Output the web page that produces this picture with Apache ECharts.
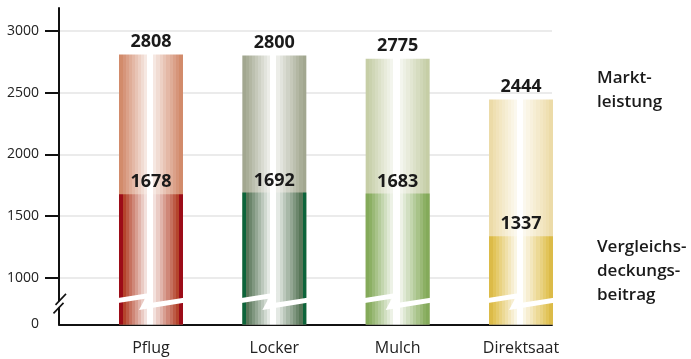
<!DOCTYPE html>
<html>
<head>
<meta charset="utf-8">
<script src="https://cdn.jsdelivr.net/npm/echarts@6/dist/echarts.min.js"></script>
<style>
  html, body { margin: 0; padding: 0; background: #ffffff; }
  #chart { width: 691px; height: 359px; }
</style>
</head>
<body>
<div id="chart"></div>
<script>
// Ertragsvergleich der Bodenbearbeitungssysteme (Werte je ha)
const categories = ['Pflug', 'Locker', 'Mulch', 'Direktsaat'];
const marktleistung = [2808, 2800, 2775, 2444];
const vergleichsDB = [1678, 1692, 1683, 1337];
const yTicks = [1000, 1500, 2000, 2500, 3000];

// The value axis is broken: its lower edge stands for 0.
const axisFloor = 623;
const axisTop = 3185;
const floorLabel = '0';
// where the break symbols sit on the (compressed) lower part of the axis
const barBreakAt = 822;
const axisBreakAt = 790;

// bar colours per system: [outer edge, first inner band]
const lowerColors = [
  ['#9c0c18', '#b4442c'],
  ['#0c643a', '#587658'],
  ['#84aa5a', '#8cb064'],
  ['#dcbb48', '#e2c459']
];
const upperColors = [
  ['#d28b6b', '#d6957a'],
  ['#a2a790', '#a9ae98'],
  ['#c6cea6', '#cad2ae'],
  ['#ecdba8', '#efe0b2']
];

const BAR_WIDTH = 64;
const FONT = '"Open Sans", "DejaVu Sans", sans-serif';

function mix(hex, t) {
  const n = parseInt(hex.slice(1), 16);
  const r = (n >> 16) & 255, g = (n >> 8) & 255, b = n & 255;
  const f = c => Math.round(c + (255 - c) * t);
  return 'rgb(' + f(r) + ',' + f(g) + ',' + f(b) + ')';
}

// stepped horizontal gradient: dark edges fading to a white highlight in the middle
function banded(edge, inner, maxT) {
  const stops = [];
  const push = (a, b, c) => { stops.push({ offset: a, color: c }, { offset: b, color: c }); };
  const steps = 8, e = 0.055, cl = 0.43, cr = 0.53;
  push(0, e, edge);
  const wl = (cl - e) / steps;
  for (let i = 0; i < steps; i++) {
    push(e + i * wl, e + (i + 1) * wl, mix(inner, maxT * i / (steps - 1)));
  }
  push(cl, cr, '#ffffff');
  const wr = (1 - e - cr) / steps;
  for (let i = 0; i < steps; i++) {
    push(cr + i * wr, cr + (i + 1) * wr, mix(inner, maxT * (steps - 1 - i) / (steps - 1)));
  }
  push(1 - e, 1, edge);
  return { type: 'linear', x: 0, y: 0, x2: 1, y2: 0, colorStops: stops };
}

const chart = echarts.init(document.getElementById('chart'), null, { renderer: 'canvas' });

const gridTop = 8;
const gridBottom = 34.5;

const option = {
  animation: false,
  backgroundColor: '#ffffff',
  textStyle: { fontFamily: FONT },
  grid: [
    // frame with the value axis and grid lines
    { left: 59, right: 139, top: gridTop, bottom: gridBottom },
    // bars
    { left: 89.33, right: 108.33, top: gridTop, bottom: gridBottom }
  ],
  xAxis: [
    {
      gridIndex: 0, type: 'value', min: 0, max: 1,
      axisLine: { onZero: false, lineStyle: { color: '#111111', width: 2 } },
      axisTick: { show: false }, axisLabel: { show: false }, splitLine: { show: false }
    },
    {
      gridIndex: 1, type: 'category', data: categories,
      axisLine: { show: false }, axisTick: { show: false },
      axisLabel: { fontSize: 16, color: '#222222', margin: 16, fontFamily: FONT },
      splitLine: { show: false }
    }
  ],
  yAxis: [
    {
      gridIndex: 0, type: 'value', min: axisFloor, max: axisTop,
      axisLine: { show: true, onZero: false, lineStyle: { color: '#111111', width: 2 } },
      axisTick: { show: true, length: 14, customValues: yTicks, lineStyle: { color: '#111111', width: 2 } },
      axisLabel: {
        customValues: [axisFloor].concat(yTicks),
        formatter: v => (v === axisFloor ? floorLabel : String(v)),
        fontSize: 14, color: '#222222', margin: 20, fontFamily: FONT
      },
      splitLine: { show: true, lineStyle: { color: '#ebebeb', width: 2 } }
    },
    {
      gridIndex: 1, type: 'value', min: axisFloor, max: axisTop, show: false,
      splitLine: { show: false }
    }
  ],
  series: [
    {
      name: 'Marktleistung', type: 'bar', xAxisIndex: 1, yAxisIndex: 1,
      barWidth: BAR_WIDTH, barGap: '-100%', z: 2,
      data: marktleistung.map((v, i) => ({
        value: v,
        itemStyle: { color: banded(upperColors[i][0], upperColors[i][1], 0.78) }
      })),
      label: {
        show: true, position: 'top', distance: 4,
        fontSize: 18, fontWeight: 'bold', color: '#1a1a1a', fontFamily: FONT
      }
    },
    {
      name: 'Vergleichsdeckungsbeitrag', type: 'bar', xAxisIndex: 1, yAxisIndex: 1,
      barWidth: BAR_WIDTH, barGap: '-100%', z: 3,
      data: vergleichsDB.map((v, i) => ({
        value: v,
        itemStyle: { color: banded(lowerColors[i][0], lowerColors[i][1], 0.84) }
      })),
      label: {
        show: true, position: 'top', distance: 3,
        fontSize: 18, fontWeight: 'bold', color: '#1a1a1a', fontFamily: FONT
      }
    }
  ]
};

chart.setOption(option);

// break symbols and side captions
function overlay() {
  const els = [];
  categories.forEach(c => {
    const p = chart.convertToPixel({ gridIndex: 1 }, [c, barBreakAt]);
    const L = p[0] - BAR_WIDTH / 2, y0 = p[1];
    const rel = [[-1, -2], [34, -7.4], [28, 3.7], [65, -2.2], [65, 2.8], [20, 10], [26, -1.2], [-1, 3]];
    els.push({
      type: 'polygon', z: 100,
      shape: { points: rel.map(q => [L + q[0], y0 + q[1]]) },
      style: { fill: '#ffffff' }
    });
  });
  const a = chart.convertToPixel({ gridIndex: 0 }, [0, axisBreakAt]);
  const ax = a[0], ay = a[1];
  els.push({ type: 'rect', z: 100, shape: { x: ax - 2, y: ay - 2.7, width: 4, height: 6.4 }, style: { fill: '#ffffff' } });
  els.push({ type: 'line', z: 101, shape: { x1: ax - 3.5, y1: ay + 1, x2: ax + 7, y2: ay - 10 }, style: { stroke: '#111111', lineWidth: 1.6 } });
  els.push({ type: 'line', z: 101, shape: { x1: ax - 5.5, y1: ay + 9.5, x2: ax + 4.5, y2: ay - 1 }, style: { stroke: '#111111', lineWidth: 1.6 } });

  els.push({
    type: 'text', z: 100, left: 597, top: 66,
    style: { text: 'Markt-\nleistung', fontSize: 17, fontWeight: 600, fontFamily: FONT, fill: '#1a1a1a', lineHeight: 24 }
  });
  els.push({
    type: 'text', z: 100, left: 597, top: 235,
    style: { text: 'Vergleichs-\ndeckungs-\nbeitrag', fontSize: 17, fontWeight: 600, fontFamily: FONT, fill: '#1a1a1a', lineHeight: 24 }
  });
  chart.setOption({ graphic: els });
}
overlay();
</script>
</body>
</html>
